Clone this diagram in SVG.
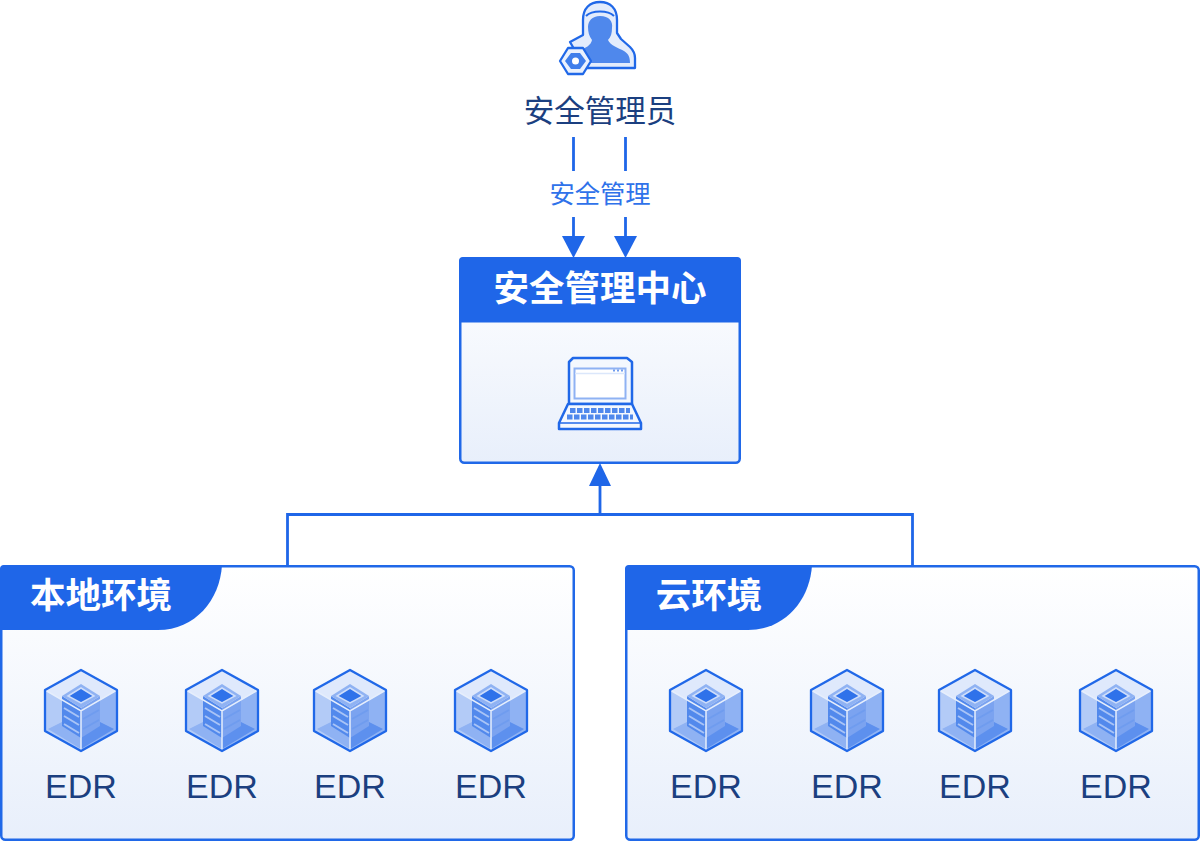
<svg xmlns="http://www.w3.org/2000/svg" width="1200" height="842" viewBox="0 0 1200 842">
<style>
text{font-family:"Noto Sans CJK SC","Noto Sans",sans-serif;text-anchor:middle}
.panel{fill:url(#pg);stroke:#2068e8;stroke-width:2.5}
.hd{fill:#1f66e8}
.wt{fill:#fff;font-weight:700;font-size:35.500px}
.edr{fill:#1b3f80;font-size:34px;font-family:"Liberation Sans",sans-serif}
.ln{fill:none;stroke:#1f66e8;stroke-width:2.800}
.ar{fill:#1f66e8}
.s{stroke:#2068e8;stroke-width:2.300;stroke-linejoin:round}
</style>
<defs>
<linearGradient id="pg" x1="0" y1="0" x2="0" y2="1"><stop offset="0" stop-color="#fff"/><stop offset="1" stop-color="#e8effb"/></linearGradient>
<g id="cube">
<polygon points="-36,20 0,41 0,81 -36,61" fill="#b3cbf7"/>
<polygon points="36,20 0,41 0,81 36,61" fill="#8fb2f3"/>
<polygon points="-33,59 -19,52 0,64 0,79" fill="#8fb2f3"/>
<polygon points="33,59 19,52 0,64 0,79" fill="#5d90ee"/>
<polygon points="0,0 36,20 0,41 -36,20" fill="#dfe9fc"/>
<polygon points="-19,26 0,38 0,68 -19,56" fill="#5289ec"/>
<polygon points="19,26 0,38 0,68 19,56" fill="#7ba3f0"/>
<g fill="none" stroke-width="2"><path d="M-17,38 L-2,47 M-17,46 L-2,55 M-17,54 L-2,63" stroke="#a9c4f6"/><path d="M2,49 L18,40 M2,59 L18,50" stroke="#6f9cef"/></g>
<polygon points="0,14 19,26 0,38 -19,26" fill="#8fb2f3"/>
<polygon points="0,18 13,26 0,33 -13,26" fill="#2f72ea" stroke="#cfdefa" stroke-width="1.500"/>
<path d="M-36,20 L0,41 L36,20 M0,41 V81" fill="none" stroke="#e6eefc" stroke-width="1.500"/>
<polygon points="0,0 36,20 36,61 0,81 -36,61 -36,20" fill="none" class="s"/>
</g>
</defs>

<g id="connectors">
<path class="ln" d="M573.500,137 V171 M573.500,217 V238 M625.500,137 V171 M625.500,217 V238"/>
<polygon class="ar" points="562,236 585,236 573.500,258"/>
<polygon class="ar" points="614,236 637,236 625.500,258"/>
<path class="ln" d="M287.500,566 V514.500 H912.500 V566 M600,514.500 V484"/>
<polygon class="ar" points="600,463 589,486 611,486"/>
</g>

<g id="admin">
<path d="M583,20 C583,8 590,2 600,2 C610,2 617,8 617,20 V33 L621,39 L630,47 C634,51 635,54 635,58 V68 H585 L570,42 L583,35 Z" fill="#e3ecfc" stroke="#2068e8" stroke-width="2.300" stroke-linejoin="round"/>
<path d="M586,16 C592,10 608,10 614,16" fill="none" stroke="#2068e8" stroke-width="2"/>
<path d="M600,16 C609,16 613,21 612,28 C612,33 611,37 608,40 C610,45 618,48 624,51 C629,54 630,58 630,63 H586 L580,50 C586,48 591,45 592,40 C589,36 588,32 588,27 C588,21 592,16 600,16 Z" fill="#4f88ec"/>
<polygon points="560,61 568,48 583,48 591,61 583,74 568,74" fill="#eaf1fd" stroke="#2068e8" stroke-width="2.300" stroke-linejoin="round"/>
<polygon points="565,61 571,53 580,53 586,61 580,69 571,69" fill="#3f7eeb"/>
<circle cx="575.500" cy="61" r="3.500" fill="#fff"/>
<text x="600" y="122" font-size="30.500" fill="#1b3f80">安全管理员</text>
</g>

<text id="edge-label" x="600" y="203" font-size="25.300" fill="#2f72ea">安全管理</text>

<g id="center">
<rect class="panel" x="460.250" y="258.250" width="279.500" height="204.500" rx="4"/>
<path class="hd" d="M463,257 H737 Q741,257 741,261 V322.500 H459 V261 Q459,257 463,257 Z"/>
<text class="wt" x="600" y="301">安全管理中心</text>
<g id="laptop">
<polygon points="569,362 573,358 627,358 632,362 632,404 569,404" fill="#f4f8fe" stroke="#2068e8" stroke-width="2.500" stroke-linejoin="round"/>
<rect x="574.500" y="368.500" width="51" height="30" fill="#fff" stroke="#8fb2f3" stroke-width="2"/>
<path d="M575,373.500 H625" stroke="#dbe7fb" stroke-width="1.500"/>
<path d="M613,370.500 h2 M617,370.500 h2 M621,370.500 h2" stroke="#6f9cef" stroke-width="2"/>
<polygon points="568,404 632,404 641,423 641,429 559,429 559,423" fill="#f4f8fe" stroke="#2068e8" stroke-width="2.500" stroke-linejoin="round"/>
<path d="M559,423 H641" stroke="#2068e8" stroke-width="1.500"/>
<path d="M570,410.500 H630 M567,417 H633" stroke="#4f88ec" stroke-width="5" stroke-dasharray="5.500 1.500"/>
</g>
</g>

<g id="local">
<rect class="panel" x="1.250" y="566.250" width="572.500" height="273.500" rx="4"/>
<path class="hd" d="M4,565 H222 C220,600 195,630 158,630 H0 V569 Q0,565 4,565 Z"/>
<text class="wt" x="101" y="608">本地环境</text>
<use href="#cube" x="81" y="670"/><text class="edr" x="81" y="798">EDR</text>
<use href="#cube" x="222" y="670"/><text class="edr" x="222" y="798">EDR</text>
<use href="#cube" x="350" y="670"/><text class="edr" x="350" y="798">EDR</text>
<use href="#cube" x="491" y="670"/><text class="edr" x="491" y="798">EDR</text>
</g>

<g id="cloud">
<rect class="panel" x="626.250" y="566.250" width="572.500" height="273.500" rx="4"/>
<path class="hd" d="M629,565 H812 C810,600 785,630 748,630 H625 V569 Q625,565 629,565 Z"/>
<text class="wt" x="709" y="608">云环境</text>
<use href="#cube" x="706" y="670"/><text class="edr" x="706" y="798">EDR</text>
<use href="#cube" x="847" y="670"/><text class="edr" x="847" y="798">EDR</text>
<use href="#cube" x="975" y="670"/><text class="edr" x="975" y="798">EDR</text>
<use href="#cube" x="1116" y="670"/><text class="edr" x="1116" y="798">EDR</text>
</g>
</svg>
